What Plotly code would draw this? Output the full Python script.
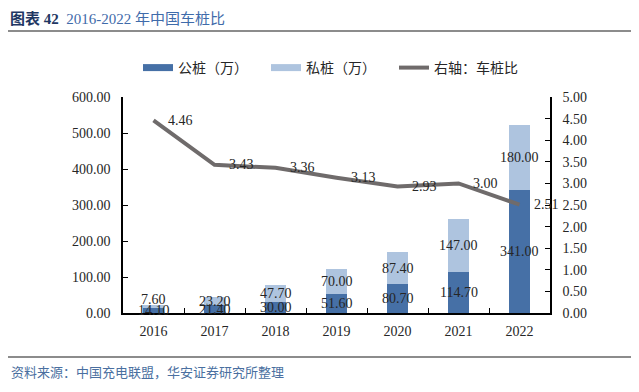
import plotly.graph_objects as go

years = ["2016", "2017", "2018", "2019", "2020", "2021", "2022"]
public_piles = [14.10, 21.40, 30.00, 51.60, 80.70, 114.70, 341.00]
private_piles = [7.60, 23.20, 47.70, 70.00, 87.40, 147.00, 180.00]
car_pile_ratio = [4.46, 3.43, 3.36, 3.13, 2.93, 3.00, 2.51]

left_ticks = [0, 100, 200, 300, 400, 500, 600]
right_ticks = [0, 0.5, 1, 1.5, 2, 2.5, 3, 3.5, 4, 4.5, 5]

C_PUB = "#4670A6"
C_PRI = "#AEC4DF"
C_LINE = "#6F6B6B"
NUM_FONT = "Liberation Serif"
CJK_FONT = "Liberation Serif, Noto Sans CJK SC"
TXT = "#262626"

OFF = 8  # page body margin
W, H = 639 - OFF, 392 - OFF
L, R, T, B = 123 - OFF, 550 - OFF, 97 - OFF, 313 - OFF
Y_MAX = 600


def px2x(px):
    return (px - OFF - L) / (R - L)


def px2y(py):
    return (B - (py - OFF)) / (B - T)


fig = go.Figure()
fig.add_trace(go.Bar(x=years, y=public_piles, name="公桩（万）", marker_color=C_PUB,
                     marker_line_width=0, width=0.33, showlegend=False, legendgroup="pub"))
fig.add_trace(go.Bar(x=years, y=private_piles, name="私桩（万）", marker_color=C_PRI,
                     marker_line_width=0, width=0.33, showlegend=False, legendgroup="pri"))
# legend entries drawn as wide flat swatches, like the reference
fig.add_trace(go.Scatter(x=[None], y=[None], name="公桩（万）", mode="lines",
                         line=dict(color=C_PUB, width=7), legendgroup="pub"))
fig.add_trace(go.Scatter(x=[None], y=[None], name="私桩（万）", mode="lines",
                         line=dict(color=C_PRI, width=7), legendgroup="pri"))
fig.add_trace(go.Scatter(x=years, y=car_pile_ratio, name="右轴：车桩比", yaxis="y2",
                         mode="lines", line=dict(color=C_LINE, width=4)))

lab_font = dict(family=NUM_FONT, size=14, color=TXT)
px_per_unit = (B - T) / Y_MAX
annotations = []
for i, (p, q) in enumerate(zip(public_piles, private_piles)):
    gap_px = (p / 2 + q / 2) * px_per_unit
    shift = 11 - gap_px if gap_px < 5 else 0
    annotations.append(dict(x=i, y=p / 2, xref="x", yref="y", text=f"{p:.2f}",
                            showarrow=False, font=lab_font))
    annotations.append(dict(x=i, y=p + q / 2, xref="x", yref="y", text=f"{q:.2f}",
                            showarrow=False, font=lab_font, yshift=shift))
for i, r in enumerate(car_pile_ratio):
    annotations.append(dict(x=i, y=r, xref="x", yref="y2", text=f"{r:.2f}",
                            showarrow=False, xanchor="left", xshift=12, font=lab_font))

annotations.append(dict(
    x=px2x(8), y=px2y(18), xref="paper", yref="paper", xanchor="left", yanchor="middle",
    text="<b><span style='color:#1F3763'>图表 42</span></b>  <span style='color:#3F6BAA'>2016-2022 年中国车桩比</span>",
    showarrow=False, font=dict(family=CJK_FONT, size=15)))
annotations.append(dict(
    x=px2x(9), y=px2y(372), xref="paper", yref="paper", xanchor="left", yanchor="middle",
    text="资料来源：中国充电联盟，华安证券研究所整理",
    showarrow=False, font=dict(family=CJK_FONT, size=13, color="#4A6FA0")))

shapes = [
    dict(type="line", xref="paper", yref="paper", x0=px2x(OFF), x1=px2x(639), y0=px2y(31), y1=px2y(31),
         line=dict(color="#8C8C8C", width=2)),
    dict(type="line", xref="paper", yref="paper", x0=px2x(OFF), x1=px2x(639), y0=px2y(357), y1=px2y(357),
         line=dict(color="#8C8C8C", width=2)),
]

fig.update_layout(
    width=W, height=H,
    margin=dict(l=L, r=W - R, t=T, b=H - B),
    barmode="stack",
    plot_bgcolor="white", paper_bgcolor="white",
    font=dict(family=NUM_FONT, size=14, color=TXT),
    showlegend=True,
    legend=dict(orientation="h", x=px2x(138), xanchor="left",
                y=px2y(68), yanchor="middle",
                font=dict(family=CJK_FONT, size=14, color=TXT),
                entrywidth=83, entrywidthmode="pixels", bgcolor="rgba(0,0,0,0)",
                traceorder="normal"),
    annotations=annotations,
    shapes=shapes,
    xaxis=dict(type="category", range=[-0.5, 6.5], showline=True, linecolor="black", linewidth=1.5,
               ticks="inside", tickson="boundaries", ticklen=5, tickcolor="black",
               tickfont=dict(family=NUM_FONT, size=14, color=TXT), showgrid=False,
               ticklabelstandoff=4, tickangle=0),
    yaxis=dict(range=[0, Y_MAX], tickvals=left_ticks, tickformat=".2f", showline=True,
               linecolor="black", linewidth=1.5, ticks="inside", ticklen=5, tickcolor="black",
               showgrid=False, zeroline=False, tickfont=dict(family=NUM_FONT, size=14, color=TXT),
               ticklabelstandoff=8),
    yaxis2=dict(range=[0, 5], tickvals=right_ticks, tickformat=".2f", overlaying="y",
                side="right", showline=True, linecolor="black", linewidth=1.5, ticks="inside",
                ticklen=5, tickcolor="black", showgrid=False, zeroline=False,
                tickfont=dict(family=NUM_FONT, size=14, color=TXT), ticklabelstandoff=8),
)

fig.write_html("out.html")
